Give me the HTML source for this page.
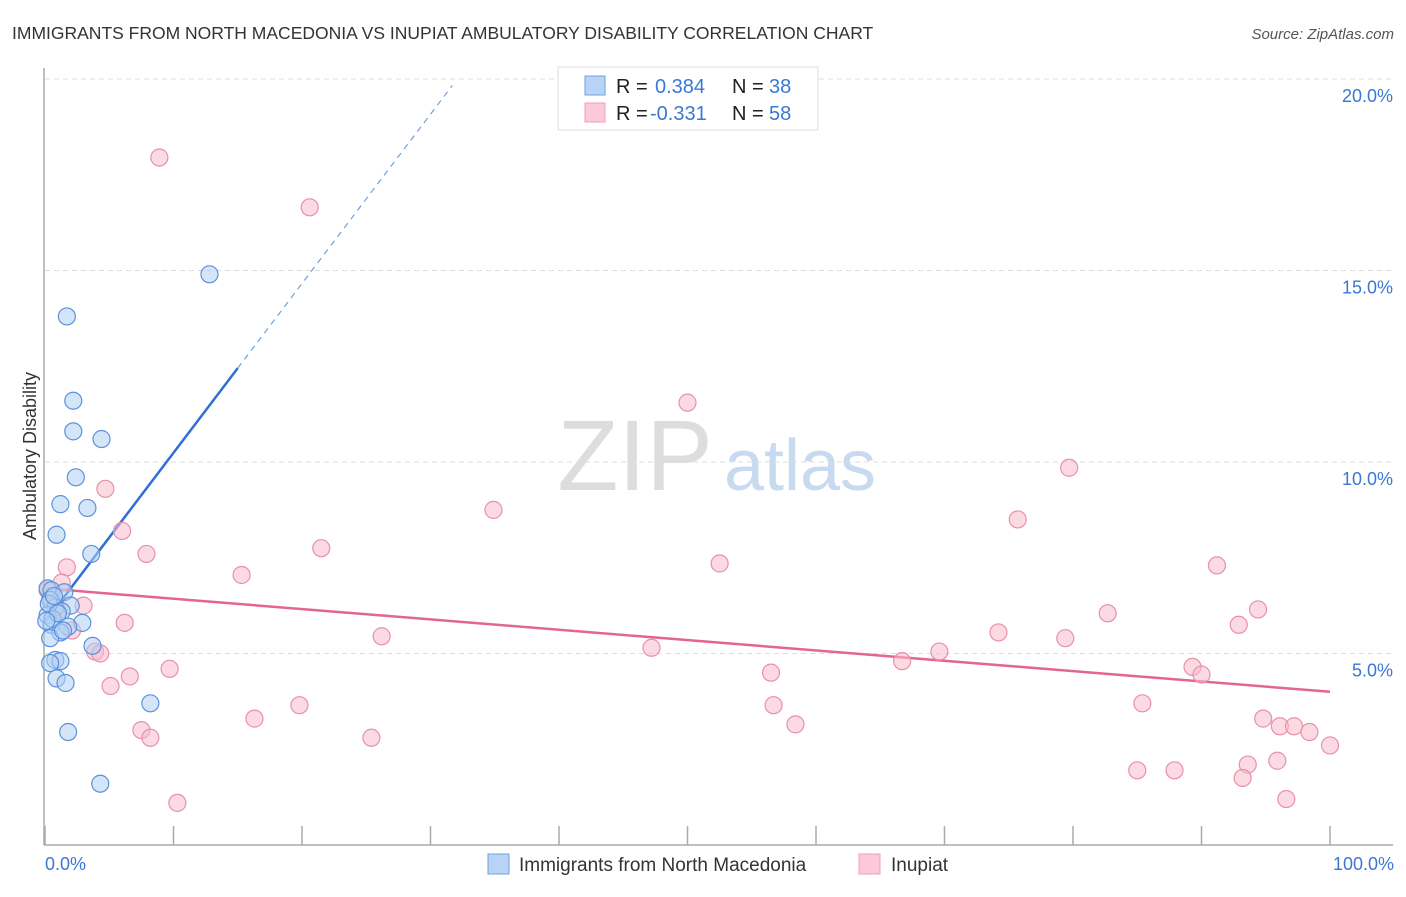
<!DOCTYPE html>
<html><head><meta charset="utf-8"><style>
body{margin:0;background:#fff;font-family:"Liberation Sans",sans-serif;}
svg text{font-family:"Liberation Sans",sans-serif;}
</style></head><body>
<svg id="chart" width="1406" height="892">
<text x="12" y="39" font-size="17.5" fill="#333">IMMIGRANTS FROM NORTH MACEDONIA VS INUPIAT AMBULATORY DISABILITY CORRELATION CHART</text>
<text x="1394" y="39" font-size="15" fill="#555" font-style="italic" text-anchor="end">Source: ZipAtlas.com</text>
<text x="635" y="490" font-size="100" fill="#ddd" font-family="Liberation Serif" text-anchor="middle">ZIP</text>
<text x="800" y="490" font-size="72" fill="#c8daf0" text-anchor="middle">atlas</text>
<g id="grid"></g><g id="axes"></g><g id="trend"></g><g id="pts"></g>
<text x="36" y="456" font-size="18" fill="#333" text-anchor="middle" transform="rotate(-90 36 456)">Ambulatory Disability</text>
<text x="45" y="870" font-size="18" fill="#3a78d4">0.0%</text>
<text x="1394" y="870" font-size="18" fill="#3a78d4" text-anchor="end">100.0%</text>
<g>
<rect x="558" y="67" width="260" height="63" fill="#fff" stroke="#ddd"/>
<rect x="585" y="76" width="20" height="19" fill="#b8d3f5" stroke="#6fa0e0"/>
<rect x="585" y="103" width="20" height="19" fill="#fcc9d8" stroke="#eea0b8"/>
<text x="616" y="93" font-size="20" fill="#222">R = </text><text x="655" y="93" font-size="20" fill="#3a78d4">0.384</text>
<text x="732" y="93" font-size="20" fill="#222">N = </text><text x="769" y="93" font-size="20" fill="#3a78d4">38</text>
<text x="616" y="120" font-size="20" fill="#222">R = </text><text x="650" y="120" font-size="20" fill="#3a78d4">-0.331</text>
<text x="732" y="120" font-size="20" fill="#222">N = </text><text x="769" y="120" font-size="20" fill="#3a78d4">58</text>
</g>
<g>
<rect x="488" y="854" width="21" height="20" fill="#b8d3f5" stroke="#6fa0e0"/>
<text x="519" y="871" font-size="19" fill="#333">Immigrants from North Macedonia</text>
<rect x="859" y="854" width="21" height="20" fill="#fcc9d8" stroke="#eea0b8"/>
<text x="891" y="871" font-size="19" fill="#333">Inupiat</text>
</g>
</svg>
<script>
const yTicks=[5,10,15,20];
const xTicks=[0,10,20,30,40,50,60,70,80,90,100];
const blueX=[12.8,1.7,2.2,2.2,4.4,2.4,1.2,3.3,0.9,3.6,0.2,0.5,1.5,0.4,2.0,0.8,1.3,0.2,2.9,0.5,1.8,1.2,0.4,3.7,0.8,1.2,0.4,0.9,1.6,8.2,1.8,4.3,0.3,0.6,1.0,0.1,0.7,1.4];
const blueY=[14.9,13.8,11.6,10.8,10.6,9.6,8.9,8.8,8.1,7.6,6.7,6.65,6.6,6.4,6.25,6.2,6.1,6.0,5.8,5.75,5.7,5.55,5.4,5.2,4.83,4.8,4.75,4.35,4.23,3.7,2.95,1.6,6.3,5.9,6.05,5.85,6.5,5.6];
const pinkX=[8.9,20.6,50.0,79.7,34.9,75.7,4.7,6.0,21.5,7.9,1.7,52.5,91.2,15.3,1.3,0.2,3.0,94.4,82.7,6.2,92.9,2.1,26.2,74.2,79.4,47.2,3.9,4.3,69.6,66.7,9.7,56.5,89.3,90.0,6.6,5.1,19.8,56.7,85.4,16.3,58.4,94.8,96.1,97.2,98.4,7.5,8.2,25.4,100,93.6,95.9,85.0,87.9,93.2,96.6,10.3,0.5,1.0];
const pinkY=[17.95,16.65,11.55,9.85,8.75,8.5,9.3,8.2,7.75,7.6,7.25,7.35,7.3,7.05,6.85,6.65,6.25,6.15,6.05,5.8,5.75,5.6,5.45,5.55,5.4,5.15,5.05,5.0,5.05,4.8,4.6,4.5,4.65,4.45,4.4,4.15,3.65,3.65,3.7,3.3,3.15,3.3,3.1,3.1,2.95,3.0,2.8,2.8,2.6,2.1,2.2,1.95,1.95,1.75,1.2,1.1,6.45,6.1];
const blueTrend=[5.82,0.442];
const pinkTrend=[6.7,-0.027];
const NS="http://www.w3.org/2000/svg";
const sx=v=>45+v*12.85, sy=v=>845-v*38.3;
function mk(t,a,p){const e=document.createElementNS(NS,t);for(const k in a)e.setAttribute(k,a[k]);p.appendChild(e);return e;}
const grid=document.getElementById('grid'),axes=document.getElementById('axes'),tr=document.getElementById('trend'),pts=document.getElementById('pts');
yTicks.forEach(v=>{const l=mk('line',{x1:45,x2:1393,y1:sy(v),y2:sy(v),stroke:'#ddd','stroke-dasharray':'5,4'},grid);


const t=mk('text',{x:1393,y:sy(v)+23,'font-size':18,fill:'#3a78d4','text-anchor':'end'},grid);t.textContent=v.toFixed(1)+'%';

});
const al=mk('line',{x1:44,x2:44,y1:68,y2:845,stroke:'#aaa','stroke-width':1.5},axes);


const bl=mk('line',{x1:44,x2:1393,y1:845,y2:845,stroke:'#aaa','stroke-width':1.5},axes);


xTicks.forEach(v=>{const t=mk('line',{x1:sx(v),x2:sx(v),y1:826,y2:845,stroke:'#aaa','stroke-width':1.5},axes);

});
function dot(x,y,fill,stroke,name){const c=mk('circle',{cx:sx(x),cy:sy(y),r:8.5,fill:fill,'fill-opacity':0.55,stroke:stroke,'stroke-width':1.2},pts);

}
pinkX.forEach((x,i)=>dot(x,pinkY[i],'#f8bccd','#e890aa','inupiat-point'));
blueX.forEach((x,i)=>dot(x,blueY[i],'#b3cff3','#5b92db','macedonia-point'));
const b1=mk('line',{x1:sx(0),y1:sy(blueTrend[0]),x2:sx(15),y2:sy(blueTrend[0]+15*blueTrend[1]),stroke:'#2f6fd6','stroke-width':2.5},tr);


const b2=mk('line',{x1:sx(15),y1:sy(blueTrend[0]+15*blueTrend[1]),x2:sx(31.7),y2:sy(blueTrend[0]+31.7*blueTrend[1]),stroke:'#6fa0e0','stroke-width':1.2,'stroke-dasharray':'6,5'},tr);


const p1=mk('line',{x1:sx(0),y1:sy(pinkTrend[0]),x2:sx(100),y2:sy(pinkTrend[0]+100*pinkTrend[1]),stroke:'#e3668f','stroke-width':2.5},tr);


</script>
</body></html>
